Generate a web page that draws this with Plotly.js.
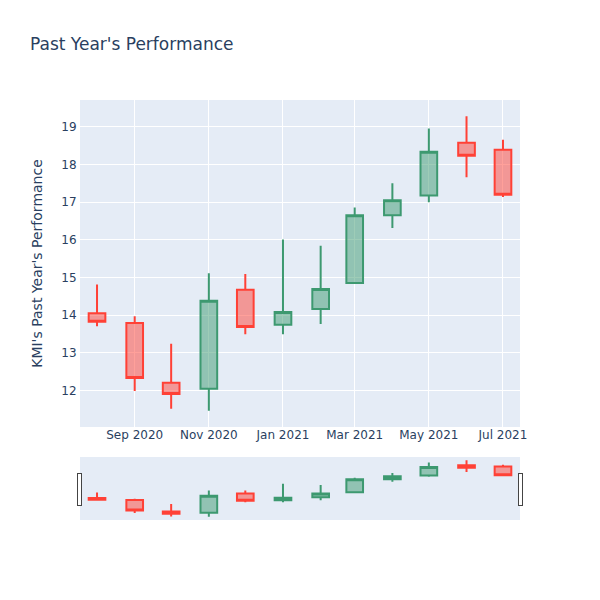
<!DOCTYPE html>
<html>
<head>
<meta charset="utf-8">
<script src="https://cdn.plot.ly/plotly-3.0.1.min.js"></script>
<style>html,body{margin:0;padding:0;background:#fff;}</style>
</head>
<body>
<div id="chart" style="width:600px;height:600px;"></div>
<script>
const dates = ["2020-08-01","2020-09-01","2020-10-01","2020-11-01","2020-12-01","2021-01-01","2021-02-01","2021-03-01","2021-04-01","2021-05-01","2021-06-01","2021-07-01"];
const openVals  = [14.05, 13.79, 12.20, 12.04, 14.67, 13.74, 14.16, 14.85, 16.65, 17.18, 18.58, 18.39];
const highVals  = [14.81, 13.97, 13.24, 15.11, 15.09, 16.01, 15.84, 16.86, 17.50, 18.96, 19.28, 18.66];
const lowVals   = [13.70, 11.98, 11.51, 11.46, 13.49, 13.49, 13.76, 14.85, 16.31, 17.00, 17.66, 17.14];
const closeVals = [13.82, 12.33, 11.90, 14.38, 13.68, 14.08, 14.69, 16.65, 17.05, 18.34, 18.23, 17.20];

const trace = {
  type: 'candlestick',
  x: dates,
  open: openVals,
  high: highVals,
  low: lowVals,
  close: closeVals,
  increasing: {line: {color: '#3D9970'}},
  decreasing: {line: {color: '#FF4136'}}
};

const layout = {
  width: 600,
  height: 600,
  margin: {l: 80, r: 80, t: 100, b: 80},
  paper_bgcolor: '#ffffff',
  plot_bgcolor: '#E5ECF6',
  font: {family: '"DejaVu Sans", verdana, arial, sans-serif', size: 12, color: '#2a3f5f'},
  title: {text: "Past Year's Performance", x: 0.05, xanchor: 'left', font: {size: 17, color: '#2a3f5f'}},
  showlegend: false,
  xaxis: {
    type: 'date',
    gridcolor: 'white',
    linecolor: 'white',
    zerolinecolor: 'white',
    ticks: '',
    ticklabelstandoff: -3,
    automargin: false,
    rangeslider: {visible: true, bgcolor: '#E5ECF6'}
  },
  yaxis: {
    title: {text: "KMI's Past Year's Performance"},
    gridcolor: 'white',
    linecolor: 'white',
    zerolinecolor: 'white',
    zerolinewidth: 2,
    ticks: '',
    automargin: false
  }
};

Plotly.newPlot('chart', [trace], layout, {displayModeBar: false});
</script>
</body>
</html>
